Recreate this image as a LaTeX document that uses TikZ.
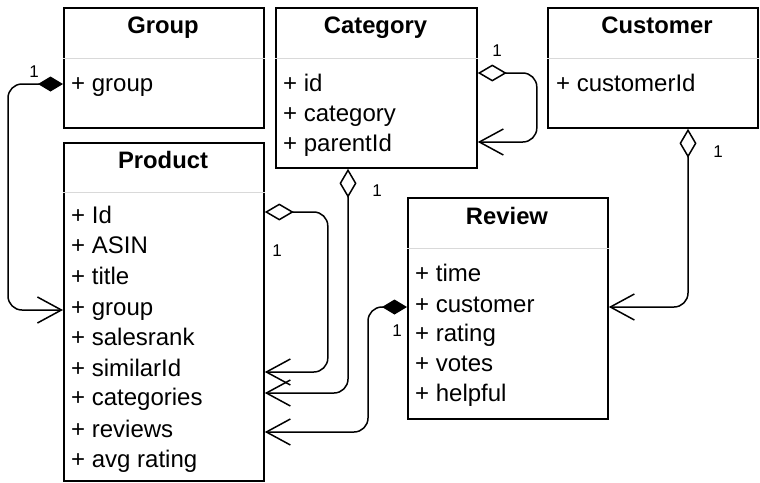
\documentclass[tikz,border=0pt]{standalone}
\usepackage{fontspec}
\setmainfont{Liberation Sans}
\usetikzlibrary{arrows.meta,calc}

\begin{document}
\begin{tikzpicture}[x=1pt,y=-1pt,
  box/.style={draw=black,line width=1.8pt,inner sep=0pt,anchor=north west,fill=white},
  ttl/.style={font=\fontsize{23.8}{28}\selectfont\bfseries,anchor=base,inner sep=0pt},
  attr/.style={font=\fontsize{24}{28}\selectfont,anchor=west,inner sep=0pt,text height=14pt,text depth=1.6pt},
  sep/.style={draw=black!15,line width=1pt},
  mult/.style={font=\fontsize{17}{20}\selectfont,inner sep=0pt},
  conn/.style={line width=1.5pt,rounded corners=14pt},
  comp/.style={conn,{Diamond[length=25pt,width=15pt]}-{Straight Barb[length=24pt,width=26pt]}},
  aggr/.style={conn,{Diamond[open,length=29pt,width=17pt]}-{Straight Barb[length=24pt,width=26pt]}}
]
\useasboundingbox[fill=white] (0,0) rectangle (760,482);

% class boxes
\node[box,minimum width=200pt,minimum height=120pt] (grp) at (63,7) {};
\node[box,minimum width=201pt,minimum height=160pt] (cat) at (275,7) {};
\node[box,minimum width=210pt,minimum height=120pt] (cus) at (547,7) {};
\node[box,minimum width=200pt,minimum height=338pt] (prd) at (63,142) {};
\node[box,minimum width=200pt,minimum height=221pt] (rev) at (407,197) {};

% compartment separators
\draw[sep] ([yshift=-51pt]grp.north west) -- ([yshift=-51pt]grp.north east);
\draw[sep] ([yshift=-51pt]cat.north west) -- ([yshift=-51pt]cat.north east);
\draw[sep] ([yshift=-51pt]cus.north west) -- ([yshift=-51pt]cus.north east);
\draw[sep] ([yshift=-50pt]prd.north west) -- ([yshift=-50pt]prd.north east);
\draw[sep] ([yshift=-51pt]rev.north west) -- ([yshift=-51pt]rev.north east);

% class names
\node[ttl] (tgrp) at (163,33) {Group};
\node[ttl] (tcat) at (375.5,33) {Category};
\node[ttl] (tcus) at (657,33) {Customer};
\node[ttl] (tprd) at (163,168) {Product};
\node[ttl] (trev) at (507,224) {Review};

% attributes
\node[attr] (agroup) at (71,85) {+ group};

\node[attr] (cid) at (283,85) {+ id};
\node[attr] (ccat) at (283,115) {+ category};
\node[attr] (cparent) at (283,145) {+ parentId};

\node[attr] (ccust) at (556,85) {+ customerId};

\node[attr] (pid) at (71,217) {+ Id};
\node[attr] (pasin) at (71,247) {+ ASIN};
\node[attr] (ptitle) at (71,278) {+ title};
\node[attr] (pgroup) at (71,309) {+ group};
\node[attr] (psales) at (71,339) {+ salesrank};
\node[attr] (psimilar) at (71,370) {+ similarId};
\node[attr] (pcats) at (71,399) {+ categories};
\node[attr] (previews) at (71,431) {+ reviews};
\node[attr] (pavg) at (71,461) {+ avg rating};

\node[attr] (rtime) at (415,275) {+ time};
\node[attr] (rcustomer) at (415,306) {+ customer};
\node[attr] (rrating) at (415,335) {+ rating};
\node[attr] (rvotes) at (415,365) {+ votes};
\node[attr] (rhelpful) at (415,395) {+ helpful};

% associations
\draw[comp] ($(grp.west |- agroup)+(0,-1)$) -- ++(-55,0) |- ($(prd.west |- pgroup)+(0,1)$);
\draw[aggr] ([yshift=-66pt]cat.north east) -- ++(59,0) |- ($(cat.east |- cparent)+(0,-3)$);
\draw[aggr] ([xshift=73pt]cat.south west) |- ($(prd.east |- pcats)+(0,-6)$);
\draw[aggr] ([yshift=-70pt]prd.north east) -- ++(63,0) |- ($(prd.east |- psimilar)+(0,2)$);
\draw[comp] ($(rev.west |- rcustomer)+(0,1)$) -- ++(-39,0) |- ($(prd.east |- previews)+(0,1)$);
\draw[aggr] ([xshift=141pt]cus.south west) |- ($(rev.east |- rcustomer)+(0,1)$);

% multiplicities
\node[mult] (m1) at (34,72) {1};
\node[mult] (m2) at (497,51) {1};
\node[mult] (m3) at (377,191) {1};
\node[mult] (m4) at (277,251) {1};
\node[mult] (m5) at (397,331) {1};
\node[mult] (m6) at (718,152) {1};
\end{tikzpicture}
\end{document}
